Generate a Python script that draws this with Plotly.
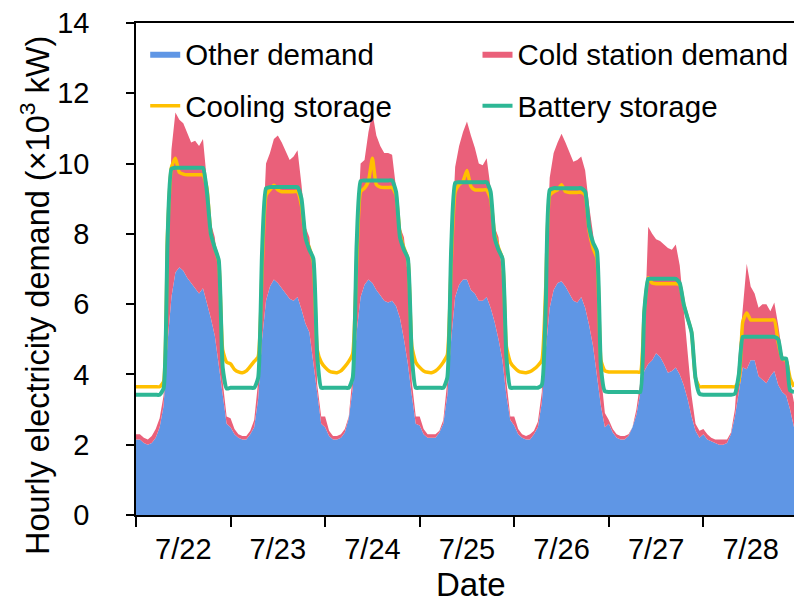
import plotly.graph_objects as go

# ---------------- data (hourly, 7/22 00:00 ... 7/28 23:00) ----------------
hours = list(range(168))
day_labels = ["7/22", "7/23", "7/24", "7/25", "7/26", "7/27", "7/28"]
day_centers = [12, 36, 60, 84, 108, 132, 156]
day_bounds = [0, 24, 48, 72, 96, 120, 144]

# Other demand (x10^3 kW)
other_demand = [
    2.15, 2.15, 2.05, 2.0, 2.05, 2.2, 2.5, 3.1, 4.9, 6.2, 6.9, 7.05, 6.95, 6.75, 6.6, 6.45, 6.3, 6.45, 6.05, 5.6, 5.1, 4.3, 3.4, 2.6,
    2.5, 2.3, 2.2, 2.15, 2.15, 2.3, 2.5, 3.3, 5.0, 6.1, 6.5, 6.7, 6.6, 6.45, 6.3, 6.15, 6.1, 6.2, 5.85, 5.45, 5.2, 4.3, 3.4, 2.6,
    2.5, 2.25, 2.15, 2.15, 2.2, 2.35, 2.75, 3.6, 5.2, 6.2, 6.55, 6.7, 6.6, 6.4, 6.25, 6.1, 6.05, 6.1, 5.95, 5.6, 5.0, 4.3, 3.4, 2.6,
    2.55, 2.3, 2.2, 2.2, 2.2, 2.35, 2.6, 3.4, 5.0, 6.2, 6.55, 6.7, 6.7, 6.4, 6.3, 6.1, 6.1, 6.2, 5.9, 5.5, 5.0, 4.4, 3.4, 2.7,
    2.55, 2.3, 2.2, 2.15, 2.15, 2.3, 2.5, 3.2, 4.7, 5.9, 6.4, 6.6, 6.65, 6.5, 6.3, 6.1, 6.05, 6.2, 5.9, 5.4, 4.8, 4.0, 3.1, 2.5,
    2.6, 2.35, 2.2, 2.15, 2.15, 2.25, 2.5, 2.85, 3.5, 4.1, 4.3, 4.4, 4.6, 4.5, 4.3, 4.05, 4.1, 4.2, 4.0, 3.7, 3.3, 2.8, 2.4, 2.2,
    2.3, 2.15, 2.1, 2.05, 2.0, 2.0, 2.05, 2.3, 2.8, 3.5, 4.2, 4.15, 4.4, 4.4, 3.95, 3.85, 3.75, 3.95, 4.1, 3.7, 3.5, 3.4, 3.0, 2.5,
]

# Other demand + cold station demand (top of the stacked area)
total_demand = [
    2.3, 2.3, 2.2, 2.15, 2.25, 2.45, 2.75, 3.4, 7.1, 10.4, 11.45, 11.25, 11.15, 10.9, 10.6, 10.65, 10.5, 10.7, 9.5, 8.3, 7.9, 6.8, 3.8, 2.8,
    2.75, 2.45, 2.3, 2.25, 2.25, 2.4, 2.7, 3.8, 7.5, 10.0, 10.3, 10.7, 10.8, 10.6, 10.35, 10.1, 10.2, 10.38, 9.4, 8.2, 7.9, 6.8, 3.7, 2.8,
    2.8, 2.4, 2.25, 2.25, 2.3, 2.45, 2.8, 4.0, 7.6, 10.0, 10.1, 10.9, 11.45, 10.8, 10.5, 10.3, 10.3, 10.25, 9.3, 8.2, 7.9, 6.8, 3.8, 2.8,
    2.8, 2.45, 2.3, 2.3, 2.3, 2.4, 2.7, 3.8, 7.5, 9.9, 10.5, 10.9, 11.2, 10.8, 10.45, 10.0, 9.95, 10.15, 9.3, 8.2, 7.9, 6.8, 3.8, 2.8,
    2.8, 2.45, 2.3, 2.25, 2.3, 2.4, 2.65, 3.5, 7.0, 9.6, 10.3, 10.6, 10.85, 10.6, 10.3, 10.05, 10.1, 10.2, 9.8, 8.8, 8.0, 7.0, 4.0, 2.9,
    2.7, 2.45, 2.3, 2.25, 2.25, 2.3, 2.5, 3.0, 3.8, 5.0, 8.2, 8.0, 7.85, 7.8, 7.7, 7.6, 7.55, 7.7, 7.1, 5.8, 4.6, 3.4, 2.6, 2.4,
    2.45, 2.3, 2.2, 2.15, 2.15, 2.15, 2.15, 2.35, 3.0, 4.6, 6.0, 7.15, 6.5, 6.3, 5.9, 6.0, 6.0, 5.8, 6.05, 5.4, 4.6, 4.3, 3.8, 3.2,
]

# Demand with cooling storage
cooling_storage = [
    3.65, 3.65, 3.65, 3.65, 3.65, 3.65, 3.65, 3.8, 8.0, 9.9, 10.15, 9.75, 9.7, 9.68, 9.68, 9.68, 9.68, 9.68, 9.3, 8.0, 7.6, 7.2, 4.7, 4.35,
    4.3, 4.14, 4.07, 4.05, 4.1, 4.23, 4.37, 4.5, 7.0, 9.1, 9.25, 9.38, 9.25, 9.2, 9.2, 9.2, 9.2, 9.2, 8.8, 7.9, 7.6, 7.2, 4.7, 4.35,
    4.2, 4.1, 4.06, 4.05, 4.1, 4.22, 4.37, 4.6, 7.2, 9.2, 9.3, 9.5, 10.15, 9.4, 9.33, 9.32, 9.32, 9.32, 9.1, 8.0, 7.6, 7.3, 4.8, 4.35,
    4.2, 4.1, 4.06, 4.05, 4.1, 4.2, 4.35, 4.55, 7.2, 9.2, 9.4, 9.5, 9.8, 9.35, 9.25, 9.25, 9.25, 9.25, 9.0, 8.0, 7.6, 7.3, 4.8, 4.35,
    4.2, 4.1, 4.06, 4.05, 4.08, 4.15, 4.25, 4.4, 6.5, 9.1, 9.2, 9.25, 9.4, 9.2, 9.18, 9.18, 9.18, 9.18, 9.1, 8.1, 7.6, 7.3, 4.4, 4.1,
    4.07, 4.07, 4.07, 4.07, 4.07, 4.07, 4.07, 4.07, 4.07, 5.8, 6.75, 6.6, 6.58, 6.58, 6.58, 6.58, 6.58, 6.58, 6.55, 6.0, 5.6, 5.2, 3.9, 3.65,
    3.65, 3.65, 3.65, 3.65, 3.65, 3.65, 3.65, 3.65, 3.65, 3.8, 5.5, 5.75, 5.55, 5.55, 5.55, 5.55, 5.55, 5.55, 5.55, 4.9, 4.45, 4.4, 3.9, 3.65,
]

# Demand with battery storage
battery_storage = [
    3.42, 3.42, 3.42, 3.42, 3.42, 3.42, 3.42, 3.6, 7.8, 9.85, 9.88, 9.88, 9.88, 9.88, 9.88, 9.88, 9.88, 9.88, 9.2, 8.0, 7.6, 7.25, 4.2, 3.6,
    3.62, 3.62, 3.62, 3.62, 3.62, 3.62, 3.62, 3.9, 7.5, 9.3, 9.33, 9.33, 9.33, 9.33, 9.33, 9.33, 9.33, 9.33, 9.0, 7.9, 7.55, 7.3, 4.5, 3.62,
    3.62, 3.62, 3.62, 3.62, 3.62, 3.62, 3.62, 3.9, 7.7, 9.5, 9.52, 9.52, 9.52, 9.52, 9.52, 9.52, 9.52, 9.52, 9.2, 7.9, 7.55, 7.3, 4.5, 3.62,
    3.62, 3.62, 3.62, 3.62, 3.62, 3.62, 3.62, 3.9, 7.6, 9.45, 9.47, 9.47, 9.47, 9.47, 9.47, 9.47, 9.47, 9.47, 9.2, 7.9, 7.55, 7.3, 4.5, 3.62,
    3.62, 3.62, 3.62, 3.62, 3.62, 3.62, 3.62, 3.7, 6.0, 9.25, 9.3, 9.3, 9.3, 9.3, 9.3, 9.3, 9.3, 9.3, 9.2, 8.2, 7.75, 7.5, 4.2, 3.52,
    3.5, 3.5, 3.5, 3.5, 3.5, 3.5, 3.5, 3.5, 3.5, 5.8, 6.72, 6.72, 6.72, 6.72, 6.72, 6.72, 6.72, 6.72, 6.6, 6.0, 5.6, 5.2, 3.9, 3.45,
    3.42, 3.42, 3.42, 3.42, 3.42, 3.42, 3.42, 3.42, 3.45, 4.0, 5.07, 5.07, 5.07, 5.07, 5.07, 5.07, 5.07, 5.07, 5.07, 5.0, 4.45, 4.45, 3.55, 3.5,
]

# ---------------- styling ----------------
BLUE = "#5F96E5"
RED = "#EA607A"
ORANGE = "#FFC000"
GREEN = "#2DB795"
FONT = "Liberation Sans, Arial, sans-serif"

fig = go.Figure()
fig.add_trace(go.Scatter(
    x=hours, y=other_demand, name="Other demand", mode="lines",
    line=dict(width=0, color=BLUE), fill="tozeroy", fillcolor=BLUE,
    legend="legend", showlegend=True))
fig.add_trace(go.Scatter(
    x=hours, y=total_demand, name="Cold station demand", mode="lines",
    line=dict(width=0, color=RED), fill="tonexty", fillcolor=RED,
    legend="legend2", showlegend=True))
fig.add_trace(go.Scatter(
    x=hours, y=cooling_storage, name="Cooling storage", mode="lines",
    line=dict(width=3.5, color=ORANGE, shape="spline", smoothing=0.5),
    legend="legend3", showlegend=True))
fig.add_trace(go.Scatter(
    x=hours, y=battery_storage, name="Battery storage", mode="lines",
    line=dict(width=4, color=GREEN, shape="spline", smoothing=0.5),
    legend="legend4", showlegend=True))

leg_common = dict(font=dict(family=FONT, size=29.5, color="black"),
                  bgcolor="rgba(0,0,0,0)", borderwidth=0, visible=True,
                  xanchor="left", yanchor="middle", itemwidth=30)

fig.update_layout(
    width=794, height=606,
    margin=dict(l=136, r=0, t=23, b=91),
    paper_bgcolor="white", plot_bgcolor="white",
    font=dict(family=FONT, color="black"),
    showlegend=True,
    legend=dict(x=0.014, y=0.937, **leg_common),
    legend2=dict(x=0.519, y=0.937, **leg_common),
    legend3=dict(x=0.014, y=0.831, **leg_common),
    legend4=dict(x=0.519, y=0.831, **leg_common),
    xaxis=dict(
        range=[0, 167], tickmode="array", tickvals=day_centers, ticktext=day_labels,
        ticks="", tickfont=dict(size=29), ticklabelstandoff=7,
        showline=True, linecolor="black", linewidth=1.5, mirror=True,
        showgrid=False, zeroline=False,
        minor=dict(tickmode="array", tickvals=day_bounds, ticks="outside",
                   ticklen=10, tickwidth=1.5, tickcolor="black", showgrid=False),
    ),
    yaxis=dict(
        range=[0, 14], tickmode="linear", tick0=0, dtick=2,
        ticks="outside", ticklen=8, tickwidth=1.5, tickcolor="black",
        tickfont=dict(size=29), ticklabelstandoff=31,
        showline=True, linecolor="black", linewidth=1.5,
        showgrid=False, zeroline=False,
    ),
    annotations=[
        dict(text="Hourly electricity demand (×10<sup>3</sup> kW)",
             xref="paper", yref="paper", x=-0.1535, y=0.447,
             xanchor="center", yanchor="middle", textangle=-90,
             showarrow=False, font=dict(family=FONT, size=32.5, color="black")),
        dict(text="Date", xref="paper", yref="paper", x=0.509, y=-0.142,
             xanchor="center", yanchor="middle", showarrow=False,
             font=dict(family=FONT, size=33, color="black")),
    ],
)

fig.write_html("out.html")
